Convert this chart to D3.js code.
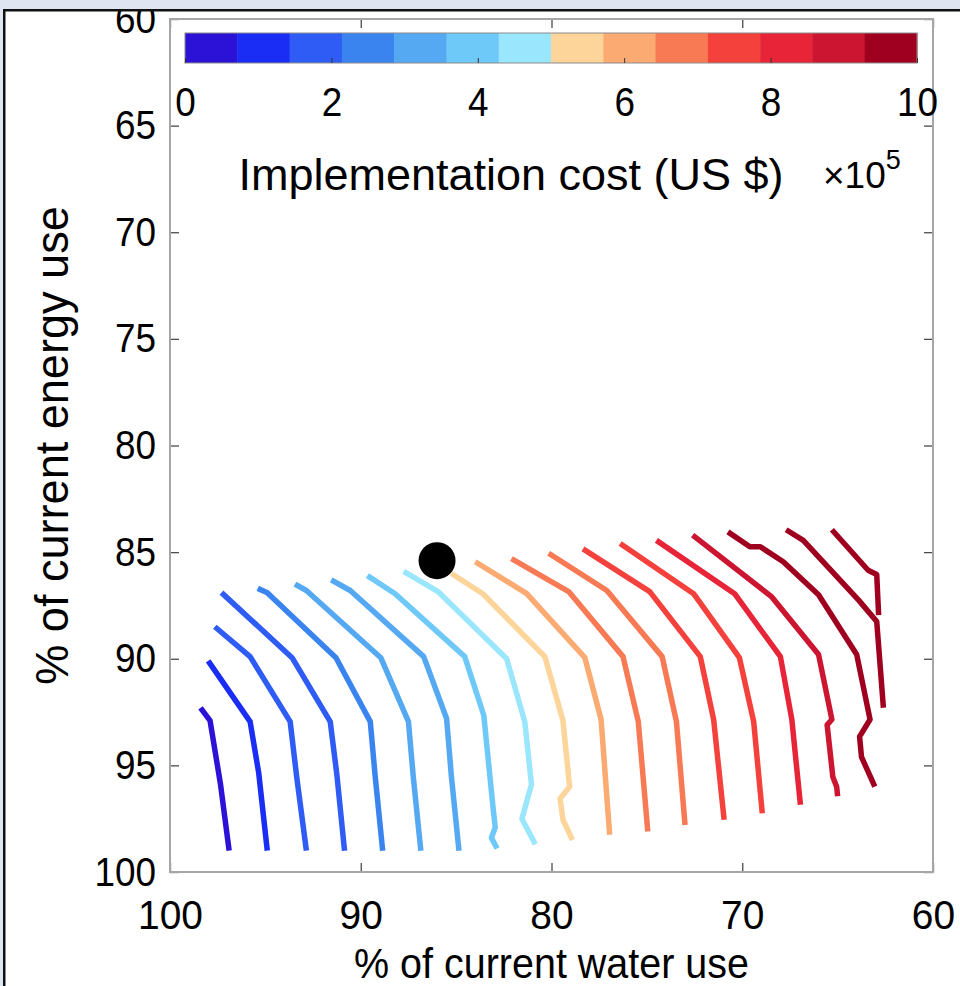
<!DOCTYPE html>
<html>
<head>
<meta charset="utf-8">
<script src="https://cdn.jsdelivr.net/npm/d3@7"></script>
<style>
  body { margin: 0; background: #fff; }
  svg text { font-family: "Liberation Sans", Arial, Helvetica, sans-serif; fill: #000; }
</style>
</head>
<body>
<div id="chart"></div>
<script>
// axis ticks
const waterTicks = [100, 90, 80, 70, 60];
const energyTicks = [60, 65, 70, 75, 80, 85, 90, 95, 100];
const costTicks = [0, 2, 4, 6, 8, 10];

// colormap of the colorbar (14 steps, blue -> red)
const cbColors = ["#2b12d6", "#1a2df5", "#2e5cf5", "#3a84f0", "#55a8f2", "#6ec8f8", "#9ae6fc",
                  "#fdd49a", "#fbaa72", "#f87a55", "#f5413c", "#e82538", "#cc1530", "#a0001f"];

// cost of each iso-cost line, x 10^5 US $ (estimated from the line colours)
const costLevels = [0.5, 1, 1.5, 2, 2.5, 3, 3.5, 4, 4.5, 5, 5.9, 6.5, 7, 7.5, 7.8, 8.3, 8.8, 9.4, 9.7, 10];

// iso-cost lines: [% of current water use, % of current energy use]
const line01 = [[98.4, 92.3], [97.9, 92.9], [97.35, 95.9], [96.9, 99.0]];
const line02 = [[98.0, 90.1], [95.8, 92.95], [95.35, 95.35], [94.9, 99.0]];
const line03 = [[97.65, 88.5], [95.8, 89.9], [93.7, 92.95], [93.35, 95.6], [92.85, 99.0]];
const line04 = [[97.3, 86.9], [93.6, 89.95], [91.6, 92.95], [91.25, 95.45], [90.85, 99.0]];
const line05 = [[95.4, 86.7], [94.9, 86.9], [91.3, 89.95], [89.5, 92.95], [89.25, 95.45], [88.85, 99.0]];
const line06 = [[93.45, 86.5], [92.85, 86.8], [88.95, 89.95], [87.5, 92.95], [87.25, 95.5], [86.85, 99.0]];
const line07 = [[91.55, 86.3], [90.55, 86.8], [86.7, 89.9], [85.5, 92.8], [85.25, 95.5], [84.85, 99.0]];
const line08 = [[89.65, 86.1], [88.2, 86.95], [84.55, 89.9], [83.55, 92.65], [83.05, 97.1], [82.95, 97.9], [83.15, 98.4], [82.85, 98.9]];
const line09 = [[87.75, 85.9], [85.95, 86.85], [82.35, 90.0], [81.4, 92.95], [81.05, 95.9], [81.55, 97.5], [80.85, 98.7]];
const line10 = [[85.25, 86.0], [83.6, 86.95], [80.35, 89.9], [79.4, 92.9], [79.05, 96.0], [79.55, 96.55], [79.4, 97.55], [78.9, 98.5]];
const line11 = [[84.0, 85.45], [81.3, 86.95], [78.25, 89.95], [77.4, 92.85], [76.95, 98.25]];
const line12 = [[82.1, 85.3], [79.1, 86.85], [76.25, 89.9], [75.45, 92.95], [74.95, 98.1]];
const line13 = [[80.15, 85.05], [77.1, 86.8], [74.2, 89.9], [73.45, 92.95], [73.0, 97.8]];
const line14 = [[78.35, 84.85], [74.85, 86.85], [72.2, 89.9], [71.5, 92.85], [70.95, 97.55]];
const line15 = [[76.4, 84.6], [72.55, 86.95], [70.15, 89.95], [69.4, 92.95], [68.95, 97.25]];
const line16 = [[74.5, 84.45], [70.4, 86.95], [68.0, 89.9], [67.4, 92.85], [66.95, 96.85]];
const line17 = [[72.6, 84.2], [68.45, 87.1], [66.0, 89.8], [65.3, 92.85], [65.55, 93.1], [65.25, 95.55], [65.05, 96.0], [65.0, 96.45]];
const line18 = [[70.75, 84.05], [69.6, 84.75], [69.05, 84.75], [67.85, 85.45], [66.0, 87.0], [64.0, 89.8], [63.3, 92.85], [63.85, 93.65], [63.75, 94.6], [63.05, 96.0]];
const line19 = [[67.7, 83.95], [66.8, 84.45], [63.9, 87.25], [62.95, 88.25], [62.6, 92.3]];
const line20 = [[65.3, 83.95], [63.4, 85.85], [62.95, 86.05], [62.85, 87.95]];

// marked point
const optimum = [86.0, 85.4];

const contourLines = [line01, line02, line03, line04, line05, line06, line07, line08, line09, line10,
                      line11, line12, line13, line14, line15, line16, line17, line18, line19, line20];

const W = 960, H = 986;
const PLOT = { LEFT: 170, RIGHT: 933, TOP: 19, BOTTOM: 872 };
const CBAR = { LEFT: 185, RIGHT: 917, TOP: 33, BOTTOM: 63 };
const SX = 0.9; // the figure's tick text is slightly condensed

const svg = d3.select("#chart").append("svg")
    .attr("width", W)
    .attr("height", H);

svg.append("rect").attr("width", W).attr("height", H).attr("fill", "#fff");

const x = d3.scaleLinear().domain([100, 60]).range([PLOT.LEFT, PLOT.RIGHT]);
const y = d3.scaleLinear().domain([60, 100]).range([PLOT.TOP, PLOT.BOTTOM]);
const cx = d3.scaleLinear().domain([0, 10]).range([CBAR.LEFT, CBAR.RIGHT]);
const color = d3.scaleQuantize().domain([0, 10]).range(cbColors);

// tick labels
const xLabels = svg.append("g")
    .attr("transform", `translate(0, ${PLOT.BOTTOM})`)
    .call(d3.axisBottom(x).tickValues(waterTicks).tickSize(0).tickPadding(28));
const yLabels = svg.append("g")
    .attr("transform", `translate(${PLOT.LEFT}, 0)`)
    .call(d3.axisLeft(y).tickValues(energyTicks).tickSize(0).tickPadding(14));
[xLabels, yLabels].forEach(g => {
    g.select(".domain").remove();
    g.selectAll("text")
        .style("font-size", "41px")
        .attr("fill", "#000");
});
xLabels.selectAll("text").attr("transform", "scale(0.95,1)");
yLabels.selectAll(".tick text")
    .attr("transform", `translate(-14,0) scale(${SX},1) translate(14,0)`);

// inner ticks on all four sides
const tickLen = 9;
const innerTicks = [
    [d3.axisBottom(x).tickValues(waterTicks), `translate(0, ${PLOT.BOTTOM})`],
    [d3.axisTop(x).tickValues(waterTicks), `translate(0, ${PLOT.TOP})`],
    [d3.axisLeft(y).tickValues(energyTicks), `translate(${PLOT.LEFT}, 0)`],
    [d3.axisRight(y).tickValues(energyTicks), `translate(${PLOT.RIGHT}, 0)`]
];
innerTicks.forEach(([ax, tr]) => {
    const g = svg.append("g").attr("transform", tr)
        .call(ax.tickSize(-tickLen).tickFormat(""));
    g.select(".domain").remove();
    g.selectAll("line").attr("stroke", "#4a4a4a").attr("stroke-width", 1.3);
});

// box
svg.append("rect")
    .attr("x", PLOT.LEFT).attr("y", PLOT.TOP)
    .attr("width", PLOT.RIGHT - PLOT.LEFT).attr("height", PLOT.BOTTOM - PLOT.TOP)
    .attr("fill", "none").attr("stroke", "#a6a6a6").attr("stroke-width", 2);

// iso-cost lines
const line = d3.line().x(d => x(d[0])).y(d => y(d[1]));
svg.append("g")
    .selectAll("path")
    .data(contourLines)
    .enter().append("path")
    .attr("d", line)
    .attr("fill", "none")
    .attr("stroke", (d, i) => color(costLevels[i]))
    .attr("stroke-width", 5.5)
    .attr("stroke-linejoin", "round");

svg.append("circle")
    .attr("cx", x(optimum[0]))
    .attr("cy", y(optimum[1]))
    .attr("r", 18.5)
    .attr("fill", "#000");

// colorbar
const step = (CBAR.RIGHT - CBAR.LEFT) / cbColors.length;
svg.append("g")
    .selectAll("rect")
    .data(cbColors)
    .enter().append("rect")
    .attr("x", (d, i) => CBAR.LEFT + i * step)
    .attr("y", CBAR.TOP)
    .attr("width", step + 0.5)
    .attr("height", CBAR.BOTTOM - CBAR.TOP)
    .attr("fill", d => d);
svg.append("rect")
    .attr("x", CBAR.LEFT).attr("y", CBAR.TOP)
    .attr("width", CBAR.RIGHT - CBAR.LEFT).attr("height", CBAR.BOTTOM - CBAR.TOP)
    .attr("fill", "none").attr("stroke", "#8c8c8c").attr("stroke-width", 1);

const cbAxis = svg.append("g")
    .attr("transform", `translate(0, ${CBAR.BOTTOM})`)
    .call(d3.axisBottom(cx).tickValues(costTicks).tickSize(-5).tickPadding(24));
cbAxis.select(".domain").remove();
cbAxis.selectAll("line").attr("stroke", "#333");
cbAxis.selectAll("text")
    .style("font-size", "41px")
    .attr("fill", "#000")
    .attr("transform", `scale(${SX},1)`);

svg.append("text")
    .attr("transform", "translate(511, 190)")
    .attr("text-anchor", "middle")
    .style("font-size", "45px")
    .text("Implementation cost (US $)");

const expo = svg.append("text")
    .attr("transform", "translate(823, 188)")
    .style("font-size", "37px");
expo.append("tspan").text("\u00d710");
expo.append("tspan").attr("dy", -19).style("font-size", "27px").text("5");

// axis titles
svg.append("text")
    .attr("transform", `translate(${(PLOT.LEFT + PLOT.RIGHT) / 2}, 978) scale(0.94,1)`)
    .attr("text-anchor", "middle")
    .style("font-size", "42px")
    .text("% of current water use");

svg.append("text")
    .attr("transform", `translate(68, ${(PLOT.TOP + PLOT.BOTTOM) / 2}) rotate(-90) scale(0.98,1)`)
    .attr("text-anchor", "middle")
    .style("font-size", "46px")
    .text("% of current energy use");

// window frame (drawn last, it clips the top label)
svg.append("rect").attr("x", 0).attr("y", 0).attr("width", W).attr("height", 9).attr("fill", "#dfe6f2");
svg.append("rect").attr("x", 0).attr("y", 0).attr("width", 3).attr("height", H).attr("fill", "#dfe6f2");
svg.append("rect").attr("x", 3).attr("y", 9).attr("width", W - 3).attr("height", 2.5).attr("fill", "#111");
svg.append("rect").attr("x", 3).attr("y", 9).attr("width", 2.5).attr("height", H - 9).attr("fill", "#111");
</script>
</body>
</html>
